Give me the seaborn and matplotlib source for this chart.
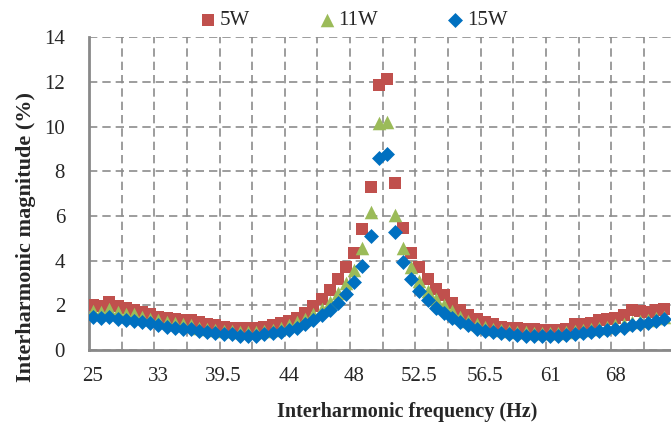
import numpy as np
import pandas as pd
import seaborn as sns
import matplotlib.pyplot as plt


# Interharmonic magnitude (%) per category point
red_5w = [2.0, 1.95, 2.15, 1.95, 1.9, 1.8, 1.7, 1.6, 1.5, 1.45,
          1.4, 1.35, 1.35, 1.25, 1.15, 1.1, 1.05, 1.0, 1.0, 1.0,
          1.0, 1.05, 1.1, 1.2, 1.3, 1.45, 1.65, 1.95, 2.3, 2.7,
          3.2, 3.7, 4.35, 5.4, 7.3, 11.85, 12.15, 7.5, 5.45, 4.35,
          3.7, 3.2, 2.75, 2.45, 2.1, 1.8, 1.55, 1.4, 1.25, 1.15,
          1.05, 1.0, 0.98, 0.95, 0.95, 0.9, 0.88, 0.9, 0.95, 1.15,
          1.15, 1.2, 1.35, 1.4, 1.45, 1.55, 1.8, 1.75, 1.7, 1.8,
          1.85]
green_11w = [1.75, 1.7, 1.85, 1.7, 1.6, 1.6, 1.5, 1.4, 1.35, 1.25,
             1.2, 1.15, 1.1, 1.0, 0.95, 0.9, 0.85, 0.85, 0.8, 0.8,
             0.8, 0.85, 0.9, 1.0, 1.1, 1.25, 1.4, 1.6, 1.85, 2.15,
             2.55, 3.0, 3.6, 4.55, 6.2, 10.15, 10.2, 6.05, 4.55, 3.7,
             3.1, 2.65, 2.3, 2.0, 1.75, 1.5, 1.3, 1.15, 1.05, 0.95,
             0.9, 0.85, 0.8, 0.8, 0.75, 0.75, 0.75, 0.78, 0.8, 0.85,
             0.9, 0.95, 1.0, 1.05, 1.1, 1.15, 1.25, 1.3, 1.35, 1.45,
             1.5]
blue_15w = [1.5, 1.45, 1.5, 1.4, 1.35, 1.3, 1.25, 1.2, 1.1, 1.05,
            1.0, 0.95, 0.95, 0.85, 0.8, 0.75, 0.7, 0.7, 0.65, 0.65,
            0.65, 0.7, 0.75, 0.8, 0.9, 1.0, 1.15, 1.35, 1.55, 1.8,
            2.1, 2.5, 3.05, 3.75, 5.1, 8.6, 8.8, 5.3, 3.95, 3.2,
            2.65, 2.25, 1.9, 1.65, 1.45, 1.25, 1.1, 0.95, 0.85, 0.8,
            0.75, 0.7, 0.68, 0.65, 0.65, 0.63, 0.63, 0.65, 0.68, 0.7,
            0.75, 0.8, 0.85, 0.9, 0.95, 1.0, 1.1, 1.15, 1.2, 1.3,
            1.4]

series_names = ['5W', '11W', '15W']
freq_labels = ['25', '33', '39.5', '44', '48', '52.5', '56.5', '61', '68']

colors = {'5W': '#C0504D', '11W': '#9BBB59', '15W': '#0070C0'}
markers = {'5W': 's', '11W': '^', '15W': 'D'}
sizes = {'5W': 75, '11W': 95, '15W': 58}

df = pd.DataFrame({'point': np.arange(len(red_5w)),
                   '5W': red_5w, '11W': green_11w, '15W': blue_15w})
long_df = df.melt(id_vars='point', var_name='series', value_name='magnitude')

sns.set_style('white')
plt.rcParams['font.family'] = ['Liberation Serif', 'DejaVu Serif']

fig = plt.figure(figsize=(6.71, 4.30), dpi=100)
ax = fig.add_axes([0.1326, 0.186, 0.8674, 0.727])

for name in series_names:
    sns.scatterplot(data=long_df[long_df['series'] == name], x='point', y='magnitude',
                    marker=markers[name], color=colors[name], s=sizes[name],
                    linewidth=0, label=name, ax=ax, zorder=3)

grey = '#898989'

# category axis: tick marks between groups of 4 points, labels every 8 points
ax.set_xlim(-0.5, 70.82)
ax.set_xticks(np.arange(-0.5, 71, 4))
ax.set_xticklabels([])
ax.set_xticks(np.arange(0, 8 * len(freq_labels), 8), minor=True)
ax.set_xticklabels(freq_labels, minor=True)
ax.set_ylim(0, 14)
ax.set_yticks(np.arange(0, 15, 2))

ax.grid(True, which='major', linestyle=(0, (5, 3)), color='#8c8c8c', linewidth=1.2)
ax.set_axisbelow(True)

for side in ['top', 'right']:
    ax.spines[side].set_visible(False)
for side in ['left', 'bottom']:
    ax.spines[side].set_color(grey)
    ax.spines[side].set_linewidth(2)

ax.tick_params(axis='both', which='major', direction='inout', length=6.5,
               width=1.5, color=grey, labelsize=15)
ax.tick_params(axis='y', which='major', pad=14)
ax.tick_params(axis='x', which='minor', length=0, pad=12, labelsize=15)

ax.set_xlabel('Interharmonic frequency (Hz)', fontsize=14.5, fontweight='bold')
ax.set_ylabel('Interharmonic magnitude (%)', fontsize=16, fontweight='bold')
ax.xaxis.set_label_coords(0.546, -0.165)
ax.yaxis.set_label_coords(-0.091, 0.36)

handles, labels = ax.get_legend_handles_labels()
ax.get_legend().remove()
fig.legend(handles, labels, loc='center', bbox_to_anchor=(0.527, 0.953), ncol=3,
           frameon=False, fontsize=15, handlelength=0.8, handletextpad=0.15,
           columnspacing=3.3, borderaxespad=0)

fig.savefig('out.png', dpi=100)
